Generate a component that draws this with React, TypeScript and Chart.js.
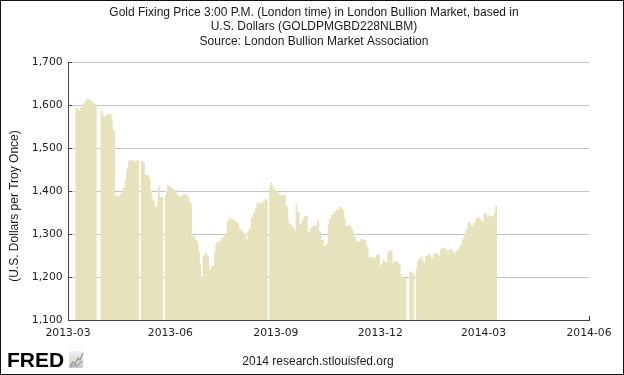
import React, { useEffect, useRef } from "react";
import { Chart, registerables } from "chart.js";

Chart.register(...registerables);

// ---------- text ----------
const TITLE_LINES = [
  "Gold Fixing Price 3:00 P.M. (London time) in London Bullion Market, based in",
  "U.S. Dollars (GOLDPMGBD228NLBM)",
  "Source: London Bullion Market Association",
];
const Y_TITLE = "(U.S. Dollars per Troy Once)";
const FOOTER = "2014 research.stlouisfed.org";
const LOGO = "FRED";

// ---------- data: daily PM fix, one value per weekday (null = no fixing) ----------
const monthStarts = [
  "2013-03-11", "2013-04-01", "2013-05-01", "2013-06-03", "2013-07-01", "2013-08-01",
  "2013-09-02", "2013-10-01", "2013-11-01", "2013-12-02", "2014-01-01", "2014-02-03", "2014-03-03",
];
const mar2013 = [1593, 1591, 1588, 1587, 1594, 1603, 1608, 1610, 1614, 1612, 1609, 1604, 1601, 1603, null];
const apr2013 = [null, 1585, 1578, 1572, 1574, 1577, 1579, 1578, 1567, 1540, 1390, 1384, 1389, 1387, 1394, 1407, 1425, 1444, 1452, 1470, 1470, 1471];
const may2013 = [1464, 1468, 1470, null, 1469, 1468, 1466, 1437, 1435, 1426, 1400, 1383, 1376, 1362, 1372, 1410, 1385, 1385, null, 1390, 1400, 1412, 1410];
const jun2013 = [1405, 1400, 1398, 1403, 1390, 1385, 1388, 1392, 1390, 1392, 1385, 1373, 1370, 1290, 1296, 1285, 1278, 1258, 1228, 1196];
const jul2013 = [1250, 1256, 1250, 1248, 1216, 1224, 1226, 1255, 1275, 1280, 1283, 1290, 1287, 1293, 1297, 1330, 1337, 1334, 1335, 1332, 1328, 1324, 1315];
const aug2013 = [1311, 1305, 1300, 1287, 1285, 1305, 1312, 1338, 1349, 1350, 1360, 1372, 1372, 1370, 1376, 1374, 1380, null, 1412, 1420, 1410, 1404];
const sep2013 = [1400, 1397, 1392, 1388, 1390, 1390, 1365, 1363, 1330, 1322, 1315, 1310, 1302, 1368, 1350, 1322, 1330, 1336, 1338, 1341, 1305];
const oct2013 = [1296, 1314, 1316, 1318, 1320, 1332, 1306, 1304, 1286, 1272, 1275, 1277, 1320, 1335, 1345, 1353, 1350, 1357, 1355, 1362, 1356, 1354, 1336];
const nov2013 = [1318, 1320, 1318, 1312, 1308, 1292, 1282, 1280, 1283, 1287, 1288, 1285, 1272, 1268, 1245, 1246, 1243, 1246, 1242, 1250, 1252];
const dec2013 = [1226, 1230, 1238, 1235, 1234, 1258, 1262, 1260, 1232, 1235, 1236, 1228, 1230, 1205, 1200, 1197, null, null, null, 1212, 1207, null];
const jan2014 = [null, 1222, 1238, 1245, 1238, 1232, 1233, 1248, 1252, 1247, 1243, 1242, 1254, 1254, 1247, 1250, 1262, 1267, 1265, 1256, 1262, 1251, 1265];
const feb2014 = [1256, 1253, 1258, 1260, 1263, 1275, 1286, 1290, 1298, 1310, 1326, 1320, 1316, 1318, 1326, 1336, 1338, 1333, 1330, 1328];
const mar2014 = [1348, 1340, 1337, 1342, 1340, 1341, 1348, 1366];
const monthValues = [mar2013, apr2013, may2013, jun2013, jul2013, aug2013, sep2013, oct2013, nov2013, dec2013, jan2014, feb2014, mar2014];

// ---------- axes ----------
const X_ORIGIN = "2013-03-01";
const X_MIN_DAY = 2.8;
const xTickDates = ["2013-03-01", "2013-06-01", "2013-09-01", "2013-12-01", "2014-03-01", "2014-06-01"];
const xTickLabels = ["2013-03", "2013-06", "2013-09", "2013-12", "2014-03", "2014-06"];
const yTickValues = [1100, 1200, 1300, 1400, 1500, 1600, 1700];

const DAY = 86400000;
const toMs = (s: string) => {
  const [y, m, d] = s.split("-").map(Number);
  return Date.UTC(y, m - 1, d);
};
const dayNum = (s: string) => (toMs(s) - toMs(X_ORIGIN)) / DAY;

function buildPoints() {
  const pts: { x: number; y: number | null }[] = [];
  monthStarts.forEach((start, mi) => {
    let t = toMs(start);
    const vals = monthValues[mi];
    let i = 0;
    while (i < vals.length) {
      const wd = new Date(t).getUTCDay();
      if (wd !== 0 && wd !== 6) {
        pts.push({ x: (t - toMs(X_ORIGIN)) / DAY, y: vals[i] });
        i++;
      }
      t += DAY;
    }
  });
  return pts;
}

const TICK_FONT = { family: "'DejaVu Sans', Verdana, sans-serif", size: 10.8 };

const chromePlugin = {
  id: "fredChrome",
  afterDraw(chart: any) {
    const ctx = chart.ctx as CanvasRenderingContext2D;
    const w = chart.width;
    const h = chart.height;
    ctx.save();
    ctx.fillStyle = "#1a1a1a";
    ctx.textAlign = "center";
    ctx.textBaseline = "middle";
    ctx.font = "12px 'Liberation Sans', Arial, sans-serif";
    TITLE_LINES.forEach((t, i) => ctx.fillText(t, 314, 12.5 + i * 14.5));
    ctx.fillText(FOOTER, 318, 362);
    // rotated y title
    ctx.save();
    ctx.translate(15, 206);
    ctx.rotate(-Math.PI / 2);
    ctx.fillText(Y_TITLE, 0, 0);
    ctx.restore();
    // logo
    ctx.textAlign = "left";
    ctx.textBaseline = "alphabetic";
    ctx.fillStyle = "#000";
    ctx.font = "bold 21px 'Liberation Sans', Arial, sans-serif";
    ctx.fillText(LOGO, 7, 367);
    // small logo graph icon
    const g = ctx.createLinearGradient(0, 351, 0, 368);
    g.addColorStop(0, "#f2f2f2");
    g.addColorStop(1, "#c9c9c9");
    ctx.fillStyle = g;
    ctx.fillRect(69, 351, 14, 17);
    ctx.strokeStyle = "#8aa07a";
    ctx.lineWidth = 1.2;
    ctx.beginPath();
    ctx.moveTo(70, 366);
    ctx.lineTo(73, 362);
    ctx.lineTo(75, 364);
    ctx.lineTo(78, 358);
    ctx.lineTo(80, 360);
    ctx.lineTo(83, 353);
    ctx.stroke();
    ctx.strokeStyle = "#9a9a9a";
    ctx.beginPath();
    ctx.moveTo(70, 367);
    ctx.lineTo(74, 365);
    ctx.lineTo(77, 366);
    ctx.lineTo(80, 363);
    ctx.lineTo(83, 361);
    ctx.stroke();
    // outer frame
    ctx.strokeStyle = "#111";
    ctx.lineWidth = 1;
    ctx.strokeRect(0.5, 0.5, w - 1, h - 1);
    ctx.restore();
  },
};

export default function App() {
  const ref = useRef<HTMLCanvasElement>(null);

  useEffect(() => {
    if (!ref.current) return;
    const points = buildPoints();
    const xTickDays = xTickDates.map(dayNum);
    const xMax = xTickDays[xTickDays.length - 1];

    const chart = new Chart(ref.current, {
      type: "bar",
      data: {
        datasets: [
          {
            data: points as any,
            backgroundColor: "#e6e2bc",
            borderWidth: 0,
            barThickness: "flex",
            barPercentage: 1,
            categoryPercentage: 1,
          },
        ],
      },
      options: {
        animation: false,
        responsive: false,
        maintainAspectRatio: false,
        devicePixelRatio: 1,
        events: [],
        layout: { padding: { left: 0, top: 62, right: 35, bottom: 15 } },
        plugins: {
          legend: { display: false },
          tooltip: { enabled: false },
          title: { display: false },
        },
        scales: {
          x: {
            type: "linear",
            min: X_MIN_DAY,
            max: xMax,
            offset: false,
            afterBuildTicks: (s: any) => {
              s.ticks = [X_MIN_DAY, ...xTickDays.slice(1)].map((v) => ({ value: v }));
            },
            afterFit: (s: any) => {
              s.height = 40;
            },
            ticks: {
              autoSkip: false,
              maxRotation: 0,
              minRotation: 0,
              padding: 11,
              color: "#222",
              font: TICK_FONT,
              callback: (_v: any, i: number) => xTickLabels[i],
            },
            grid: {
              display: true,
              offset: false,
              drawOnChartArea: false,
              drawTicks: true,
              tickLength: -4,
              tickColor: "#444",
              tickWidth: 1,
            },
            border: { display: true, color: "#444", width: 1 },
          },
          y: {
            type: "linear",
            min: 1100,
            max: 1700,
            beginAtZero: false,
            afterBuildTicks: (s: any) => {
              s.ticks = yTickValues.map((v) => ({ value: v }));
            },
            afterFit: (s: any) => {
              s.width = 68;
            },
            ticks: {
              padding: 9.3,
              color: "#222",
              font: TICK_FONT,
              callback: (v: any) => Number(v).toLocaleString("en-US"),
            },
            grid: {
              color: (c: any) => (c.tick && c.tick.value === 1100 ? "rgba(0,0,0,0)" : "#c2c2c2"),
              lineWidth: 1,
              drawTicks: true,
              tickLength: -4,
              tickColor: "#444",
              tickWidth: 1,
            },
            border: { display: true, color: "#444", width: 1 },
          },
        },
      },
      plugins: [chromePlugin],
    });
    return () => chart.destroy();
  }, []);

  return (
    <div style={{ position: "absolute", left: 0, top: 0, width: 624, height: 375, background: "#fff" }}>
      <canvas ref={ref} width={624} height={375} style={{ display: "block", width: 624, height: 375 }} />
    </div>
  );
}
